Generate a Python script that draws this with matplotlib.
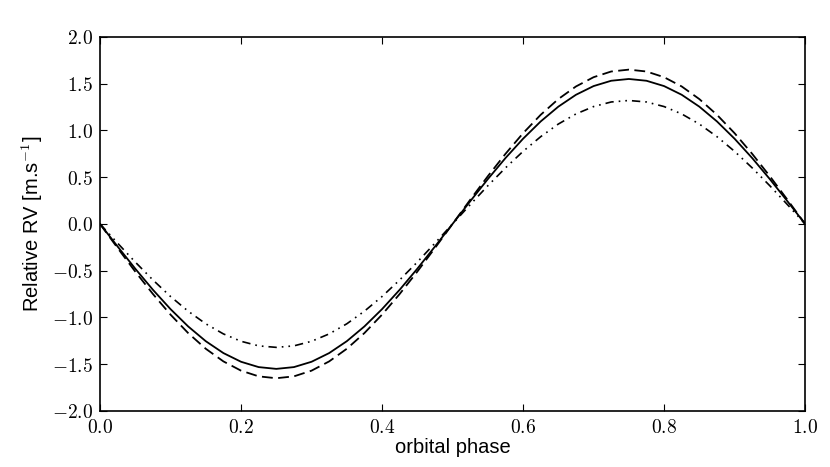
import matplotlib.pyplot as plt
from matplotlib.ticker import FuncFormatter

plt.rcParams['mathtext.fontset'] = 'cm'

# orbital phase samples
phase = [0.0, 0.025, 0.05, 0.075, 0.1, 0.125, 0.15, 0.175, 0.2, 0.225,
         0.25, 0.275, 0.3, 0.325, 0.35, 0.375, 0.4, 0.425, 0.45, 0.475,
         0.5, 0.525, 0.55, 0.575, 0.6, 0.625, 0.65, 0.675, 0.7, 0.725,
         0.75, 0.775, 0.8, 0.825, 0.85, 0.875, 0.9, 0.925, 0.95, 0.975, 1.0]

# relative RV (m/s)
rv_solid = [0, -0.242, -0.479, -0.704, -0.911, -1.096, -1.254, -1.381, -1.474, -1.531,
            -1.55, -1.531, -1.474, -1.381, -1.254, -1.096, -0.911, -0.704, -0.479, -0.242,
            0, 0.242, 0.479, 0.704, 0.911, 1.096, 1.254, 1.381, 1.474, 1.531,
            1.55, 1.531, 1.474, 1.381, 1.254, 1.096, 0.911, 0.704, 0.479, 0.242, 0]
rv_dashed = [0, -0.258, -0.510, -0.749, -0.970, -1.167, -1.335, -1.470, -1.569, -1.630,
             -1.65, -1.630, -1.569, -1.470, -1.335, -1.167, -0.970, -0.749, -0.510, -0.258,
             0, 0.258, 0.510, 0.749, 0.970, 1.167, 1.335, 1.470, 1.569, 1.630,
             1.65, 1.630, 1.569, 1.470, 1.335, 1.167, 0.970, 0.749, 0.510, 0.258, 0]
rv_dotted = [0, -0.206, -0.408, -0.599, -0.776, -0.933, -1.068, -1.176, -1.255, -1.304,
             -1.32, -1.304, -1.255, -1.176, -1.068, -0.933, -0.776, -0.599, -0.408, -0.206,
             0, 0.206, 0.408, 0.599, 0.776, 0.933, 1.068, 1.176, 1.255, 1.304,
             1.32, 1.304, 1.255, 1.176, 1.068, 0.933, 0.776, 0.599, 0.408, 0.206, 0]

x_ticks = [0.0, 0.2, 0.4, 0.6, 0.8, 1.0]
y_ticks = [-2.0, -1.5, -1.0, -0.5, 0.0, 0.5, 1.0, 1.5, 2.0]

fig = plt.figure(figsize=(8.3, 4.67), dpi=100)
ax = fig.add_axes([0.1205, 0.12, 0.8495, 0.801])

ax.plot(phase, rv_solid, color='black', lw=1.3)
ax.plot(phase, rv_dashed, color='black', lw=1.3, dashes=(6, 3))
ax.plot(phase, rv_dotted, color='black', lw=1.2, dashes=(5, 3, 1, 3, 1, 3))

ax.set_xlim(0, 1)
ax.set_ylim(-2, 2)
ax.set_xticks(x_ticks)
ax.set_yticks(y_ticks)
fmt = FuncFormatter(lambda v, p: r'$%.1f$' % v if abs(v) > 1e-9 else r'$0.0$')
ax.xaxis.set_major_formatter(fmt)
ax.yaxis.set_major_formatter(fmt)
ax.tick_params(direction='in', top=True, right=True, length=5, width=0.8,
               labelsize=14, pad=5)
for s in ax.spines.values():
    s.set_linewidth(1.2)

ax.set_xlabel('orbital phase', family='Liberation Sans', fontsize=14.5, labelpad=1)
ax.set_ylabel(r'Relative RV [m.s$^{-1}$]', family='Liberation Sans', fontsize=14.5,
              labelpad=5)

fig.savefig('out.png', dpi=100)
